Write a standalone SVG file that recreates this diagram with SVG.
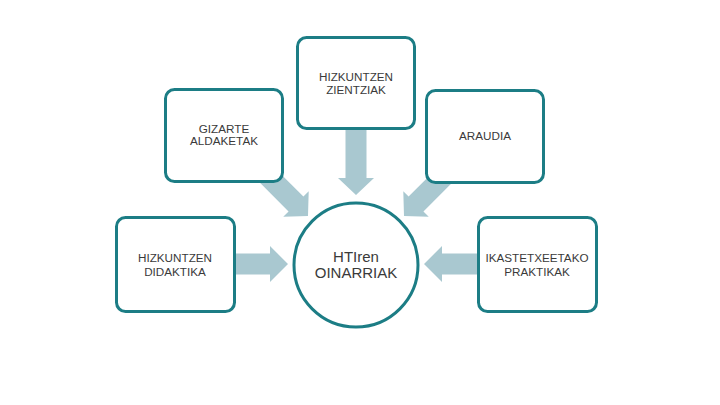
<svg xmlns="http://www.w3.org/2000/svg" width="720" height="405" viewBox="0 0 720 405">
<style>
.box{fill:#fff;stroke:#1c7d85;stroke-width:3}
.arr{fill:#a9c8d0}
.t{font-family:"Liberation Sans",Arial,sans-serif;font-size:11.7px;fill:#3a3a3a;text-anchor:middle}
.tc{font-family:"Liberation Sans",Arial,sans-serif;font-size:15px;fill:#3a3a3a;text-anchor:middle}
</style>
<defs>
<polygon id="darr" points="-66,-10.5 -17,-10.5 -17,-18 0,0 -17,18 -17,10.5 -66,10.5"/>
</defs>
<rect width="720" height="405" fill="#fff"/>
<g id="connectors">
<polygon class="arr" points="345.5,125 366.5,125 366.5,178 374,178 356,195 338,178 345.5,178"/>
<polygon class="arr" points="230,253.5 270,253.5 270,246 288,264 270,282 270,274.5 230,274.5"/>
<polygon class="arr" points="482,253.5 442,253.5 442,246 424,264 442,282 442,274.5 482,274.5"/>
<use href="#darr" class="arr" transform="translate(308,216) rotate(45)"/>
<use href="#darr" class="arr" transform="translate(404,216) rotate(135)"/>
</g>
<g id="n-zientziak">
<rect class="box" x="297.5" y="37.5" width="117" height="91" rx="9"/>
<text class="t" x="356" y="80.5">HIZKUNTZEN</text>
<text class="t" x="356" y="94">ZIENTZIAK</text>
</g>
<g id="n-gizarte">
<rect class="box" x="165.5" y="89.5" width="117" height="92" rx="9"/>
<text class="t" x="224" y="133">GIZARTE</text>
<text class="t" x="224" y="145">ALDAKETAK</text>
</g>
<g id="n-araudia">
<rect class="box" x="426.5" y="90.5" width="117" height="92" rx="9"/>
<text class="t" x="485" y="140">ARAUDIA</text>
</g>
<g id="n-didaktika">
<rect class="box" x="116.5" y="217.5" width="118" height="94" rx="9"/>
<text class="t" x="175" y="262.3">HIZKUNTZEN</text>
<text class="t" x="175" y="275.7">DIDAKTIKA</text>
</g>
<g id="n-praktikak">
<rect class="box" x="478.5" y="217.5" width="118" height="94" rx="9"/>
<text class="t" x="537" y="262.3">IKASTETXEETAKO</text>
<text class="t" x="537" y="275.7">PRAKTIKAK</text>
</g>
<g id="n-oinarriak">
<circle class="box" cx="356" cy="265" r="62"/>
<text class="tc" x="356" y="262">HTIren</text>
<text class="tc" x="356" y="277.5">OINARRIAK</text>
</g>
</svg>
